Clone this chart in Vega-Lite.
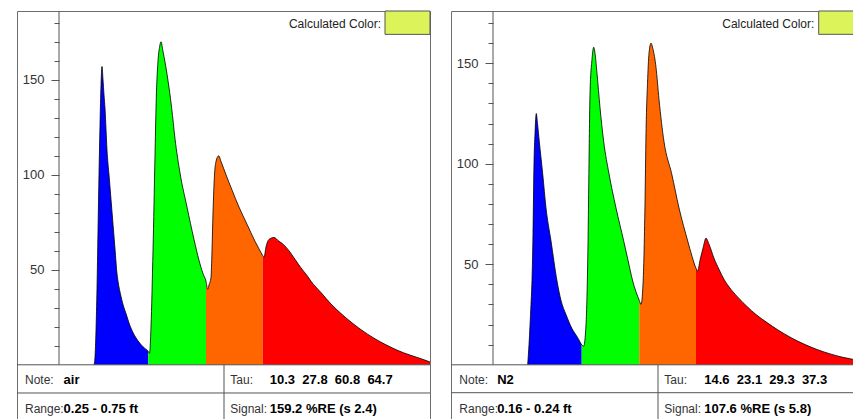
{
  "$schema": "https://vega.github.io/schema/vega-lite/v6.json",
  "padding": {"left": 16, "top": 10, "right": 0, "bottom": 0},
  "autosize": {"type": "pad"},
  "background": "white",
  "spacing": 21,
  "bounds": "flush",
  "config": {
    "view": {"stroke": "#6e6e6e", "strokeWidth": 1},
    "font": "Liberation Sans",
    "axis": {"labelFont": "Liberation Sans"}
  },
  "datasets": {
    "L": [
      {"t": 35, "v": 0, "seg": "b"}, {"t": 36, "v": 4, "seg": "b"}, {"t": 37, "v": 18, "seg": "b"}, {"t": 38, "v": 40, "seg": "b"},
      {"t": 39, "v": 70, "seg": "b"}, {"t": 40, "v": 100, "seg": "b"}, {"t": 41, "v": 126, "seg": "b"}, {"t": 42, "v": 147, "seg": "b"},
      {"t": 43, "v": 157, "seg": "b"}, {"t": 44, "v": 150, "seg": "b"}, {"t": 45, "v": 142, "seg": "b"}, {"t": 46, "v": 135, "seg": "b"},
      {"t": 47, "v": 124, "seg": "b"}, {"t": 48, "v": 113, "seg": "b"}, {"t": 50, "v": 100, "seg": "b"}, {"t": 52, "v": 87, "seg": "b"},
      {"t": 54, "v": 74, "seg": "b"}, {"t": 56, "v": 61, "seg": "b"}, {"t": 58, "v": 48, "seg": "b"}, {"t": 59, "v": 44, "seg": "b"},
      {"t": 62, "v": 36, "seg": "b"}, {"t": 65, "v": 30, "seg": "b"}, {"t": 67, "v": 27, "seg": "b"}, {"t": 70, "v": 22, "seg": "b"},
      {"t": 74, "v": 17, "seg": "b"}, {"t": 79, "v": 12.6, "seg": "b"}, {"t": 84, "v": 9.5, "seg": "b"}, {"t": 89.3, "v": 7, "seg": "b"},
      {"t": 89.3, "v": 7, "seg": "g"}, {"t": 90.5, "v": 6, "seg": "g"}, {"t": 92, "v": 20, "seg": "g"}, {"t": 94, "v": 60, "seg": "g"},
      {"t": 96, "v": 110, "seg": "g"}, {"t": 97, "v": 135, "seg": "g"}, {"t": 99, "v": 160, "seg": "g"}, {"t": 100.5, "v": 167, "seg": "g"},
      {"t": 102, "v": 170, "seg": "g"}, {"t": 104, "v": 165, "seg": "g"}, {"t": 108, "v": 153, "seg": "g"}, {"t": 112.7, "v": 135, "seg": "g"},
      {"t": 116, "v": 119, "seg": "g"}, {"t": 121, "v": 101, "seg": "g"}, {"t": 128, "v": 83, "seg": "g"}, {"t": 135, "v": 66, "seg": "g"},
      {"t": 140, "v": 55, "seg": "g"}, {"t": 144, "v": 48, "seg": "g"}, {"t": 147, "v": 44, "seg": "g"},
      {"t": 147, "v": 44, "seg": "o"}, {"t": 148.7, "v": 39.7, "seg": "o"}, {"t": 150, "v": 42, "seg": "o"}, {"t": 152, "v": 46, "seg": "o"},
      {"t": 153, "v": 60, "seg": "o"}, {"t": 154, "v": 80, "seg": "o"}, {"t": 155.5, "v": 100, "seg": "o"}, {"t": 157, "v": 107, "seg": "o"},
      {"t": 159.7, "v": 110, "seg": "o"}, {"t": 162, "v": 107, "seg": "o"}, {"t": 167, "v": 100, "seg": "o"}, {"t": 173, "v": 92, "seg": "o"},
      {"t": 180, "v": 83, "seg": "o"}, {"t": 188, "v": 74, "seg": "o"}, {"t": 196, "v": 65, "seg": "o"}, {"t": 200, "v": 61, "seg": "o"},
      {"t": 203.7, "v": 57.5, "seg": "o"},
      {"t": 203.7, "v": 57.5, "seg": "r"}, {"t": 205, "v": 56.5, "seg": "r"}, {"t": 207, "v": 62, "seg": "r"}, {"t": 210, "v": 66, "seg": "r"},
      {"t": 215, "v": 67, "seg": "r"}, {"t": 220, "v": 65, "seg": "r"}, {"t": 224, "v": 63.5, "seg": "r"}, {"t": 230, "v": 60, "seg": "r"},
      {"t": 236, "v": 55.5, "seg": "r"}, {"t": 242, "v": 51, "seg": "r"}, {"t": 248, "v": 47, "seg": "r"}, {"t": 252, "v": 44, "seg": "r"},
      {"t": 262, "v": 38, "seg": "r"}, {"t": 272, "v": 32, "seg": "r"}, {"t": 282, "v": 27, "seg": "r"}, {"t": 292, "v": 22.5, "seg": "r"},
      {"t": 302, "v": 18.5, "seg": "r"}, {"t": 315, "v": 14, "seg": "r"}, {"t": 327, "v": 10.5, "seg": "r"}, {"t": 339, "v": 7.5, "seg": "r"},
      {"t": 350, "v": 5.3, "seg": "r"}, {"t": 362, "v": 3.2, "seg": "r"}, {"t": 371, "v": 1.5, "seg": "r"}
    ],
    "R": [
      {"t": 34.7, "v": 0, "seg": "b"}, {"t": 36, "v": 10, "seg": "b"}, {"t": 38, "v": 30, "seg": "b"}, {"t": 39, "v": 42, "seg": "b"},
      {"t": 40, "v": 65, "seg": "b"}, {"t": 41, "v": 100, "seg": "b"}, {"t": 42, "v": 115, "seg": "b"}, {"t": 43.3, "v": 125, "seg": "b"},
      {"t": 44.5, "v": 120, "seg": "b"}, {"t": 46.3, "v": 111, "seg": "b"}, {"t": 49.7, "v": 95, "seg": "b"}, {"t": 53, "v": 78, "seg": "b"},
      {"t": 58, "v": 61.6, "seg": "b"}, {"t": 64, "v": 41.7, "seg": "b"}, {"t": 68, "v": 32, "seg": "b"}, {"t": 73, "v": 25, "seg": "b"},
      {"t": 79, "v": 18, "seg": "b"}, {"t": 84.7, "v": 13.5, "seg": "b"}, {"t": 88.7, "v": 10, "seg": "b"},
      {"t": 88.7, "v": 10, "seg": "g"}, {"t": 90.7, "v": 9.3, "seg": "g"}, {"t": 93, "v": 20, "seg": "g"}, {"t": 95, "v": 60, "seg": "g"},
      {"t": 96, "v": 100, "seg": "g"}, {"t": 97, "v": 135, "seg": "g"}, {"t": 99, "v": 152, "seg": "g"}, {"t": 100.7, "v": 158, "seg": "g"},
      {"t": 102, "v": 155, "seg": "g"}, {"t": 104, "v": 145, "seg": "g"}, {"t": 107, "v": 128, "seg": "g"}, {"t": 110.7, "v": 111, "seg": "g"},
      {"t": 116, "v": 95, "seg": "g"}, {"t": 123, "v": 78, "seg": "g"}, {"t": 130.7, "v": 61.6, "seg": "g"}, {"t": 135, "v": 52, "seg": "g"},
      {"t": 139.7, "v": 41.7, "seg": "g"}, {"t": 146.3, "v": 32, "seg": "g"},
      {"t": 146.3, "v": 32, "seg": "o"}, {"t": 148, "v": 30, "seg": "o"}, {"t": 150, "v": 40, "seg": "o"}, {"t": 152, "v": 80, "seg": "o"},
      {"t": 153, "v": 115, "seg": "o"}, {"t": 154.5, "v": 140, "seg": "o"}, {"t": 156, "v": 155, "seg": "o"}, {"t": 158, "v": 160, "seg": "o"},
      {"t": 160, "v": 157, "seg": "o"}, {"t": 163, "v": 148, "seg": "o"}, {"t": 166, "v": 132, "seg": "o"}, {"t": 171, "v": 111, "seg": "o"},
      {"t": 178.7, "v": 95, "seg": "o"}, {"t": 186, "v": 78, "seg": "o"}, {"t": 194.7, "v": 61.6, "seg": "o"}, {"t": 199, "v": 54, "seg": "o"},
      {"t": 203, "v": 48, "seg": "o"},
      {"t": 203, "v": 48, "seg": "r"}, {"t": 204.7, "v": 46.7, "seg": "r"}, {"t": 207, "v": 52, "seg": "r"}, {"t": 210, "v": 58, "seg": "r"},
      {"t": 213, "v": 63, "seg": "r"}, {"t": 216, "v": 60, "seg": "r"}, {"t": 221, "v": 53, "seg": "r"}, {"t": 226, "v": 47.5, "seg": "r"},
      {"t": 231, "v": 42.5, "seg": "r"}, {"t": 238, "v": 37.5, "seg": "r"}, {"t": 246, "v": 33, "seg": "r"}, {"t": 254, "v": 29, "seg": "r"},
      {"t": 263, "v": 25, "seg": "r"}, {"t": 274, "v": 21, "seg": "r"}, {"t": 285, "v": 17.3, "seg": "r"}, {"t": 298, "v": 13.5, "seg": "r"},
      {"t": 311, "v": 10.3, "seg": "r"}, {"t": 324, "v": 7.6, "seg": "r"}, {"t": 338, "v": 5.3, "seg": "r"}, {"t": 350, "v": 3.7, "seg": "r"},
      {"t": 361, "v": 2.6, "seg": "r"}
    ]
  },
  "hconcat": [
    {
      "width": 413,
      "height": 409,
      "resolve": {"axis": {"y": "independent"}},
      "layer": [
        {
          "data": {"name": "L"},
          "mark": {"type": "area", "interpolate": "monotone"},
          "encoding": {
            "x": {"field": "t", "type": "quantitative", "scale": {"domain": [-42, 371], "nice": false, "zero": false}, "axis": null},
            "y": {
              "field": "v", "type": "quantitative",
              "scale": {"domain": [-29.05, 186.2], "nice": false, "zero": false},
              "axis": {
                "title": null, "orient": "left", "values": [50, 100, 150],
                "offset": -42, "domain": false, "grid": false, "tickSize": 8, "tickColor": "#555555",
                "labelFontSize": 13, "labelColor": "#333333", "labelPadding": 7
              }
            },
            "y2": {"datum": 0},
            "color": {"field": "seg", "type": "nominal", "scale": {"domain": ["b", "g", "o", "r"], "range": ["#0000ff", "#00ff00", "#ff6600", "#ff0000"]}, "legend": null}
          }
        },
        {
          "data": {"name": "L"},
          "mark": {"type": "line", "color": "#000000", "strokeWidth": 0.8, "interpolate": "monotone"},
          "encoding": {
            "x": {"field": "t", "type": "quantitative"},
            "y": {
              "field": "v", "type": "quantitative",
              "axis": {
                "title": null, "orient": "left", "values": [10, 20, 30, 40, 60, 70, 80, 90, 110, 120, 130, 140, 160, 170, 180],
                "labels": false, "offset": -42, "domain": false, "grid": false, "tickSize": 5, "tickColor": "#555555"
              }
            }
          }
        },
        {
          "data": {"values": [{}]},
          "mark": {"type": "rule", "color": "#555555"},
          "encoding": {"x": {"datum": 0, "type": "quantitative"}, "y": {"datum": 0, "type": "quantitative", "axis": null}, "y2": {"datum": 186.2}}
        },
        {
          "data": {"values": [{}]},
          "mark": {"type": "rule", "color": "#555555"},
          "encoding": {"x": {"datum": -42, "type": "quantitative"}, "x2": {"datum": 371}, "y": {"datum": 0, "type": "quantitative", "axis": null}}
        },
        {
          "data": {"values": [{}]},
          "mark": {"type": "rule", "color": "#555555"},
          "encoding": {"x": {"datum": -42, "type": "quantitative"}, "x2": {"datum": 371}, "y": {"datum": -14.84, "type": "quantitative", "axis": null}}
        },
        {
          "data": {"values": [{}]},
          "mark": {"type": "rule", "color": "#555555"},
          "encoding": {"x": {"datum": 165, "type": "quantitative"}, "y": {"datum": 0, "type": "quantitative", "axis": null}, "y2": {"datum": -29.05}}
        },
        {
          "data": {"values": [{}]},
          "mark": {"type": "rect", "fill": "#dcf45a", "stroke": "#555555", "strokeWidth": 1},
          "encoding": {"x": {"datum": 326, "type": "quantitative"}, "x2": {"datum": 371}, "y": {"datum": 173.9, "type": "quantitative", "axis": null}, "y2": {"datum": 186.2}}
        },
        {
          "data": {"values": [{"s": "Calculated Color:"}]},
          "mark": {"type": "text", "align": "right", "baseline": "alphabetic", "fontSize": 12, "color": "#222222"},
          "encoding": {"x": {"datum": 322, "type": "quantitative"}, "y": {"datum": 177.1, "type": "quantitative", "axis": null}, "text": {"field": "s"}}
        },
        {
          "data": {"values": [{"s": "Note:\nRange:"}]},
          "mark": {"type": "text", "align": "left", "baseline": "alphabetic", "fontSize": 12, "color": "#333333", "lineBreak": "\n", "lineHeight": 28.4},
          "encoding": {"x": {"datum": -34, "type": "quantitative"}, "y": {"datum": -10.26, "type": "quantitative", "axis": null}, "text": {"field": "s"}}
        },
        {
          "data": {"values": [{"s": "air\n0.25 - 0.75 ft"}]},
          "mark": {"type": "text", "align": "left", "baseline": "alphabetic", "fontSize": 13, "fontWeight": "bold", "color": "#000000", "lineBreak": "\n", "lineHeight": 28.4},
          "encoding": {"x": {"datum": 4.6, "type": "quantitative"}, "y": {"datum": -10.26, "type": "quantitative", "axis": null}, "text": {"field": "s"}}
        },
        {
          "data": {"values": [{"s": "Tau:\nSignal:"}]},
          "mark": {"type": "text", "align": "left", "baseline": "alphabetic", "fontSize": 12, "color": "#333333", "lineBreak": "\n", "lineHeight": 28.4},
          "encoding": {"x": {"datum": 171.3, "type": "quantitative"}, "y": {"datum": -10.26, "type": "quantitative", "axis": null}, "text": {"field": "s"}}
        },
        {
          "data": {"values": [{"s": "10.3\u00a0\u00a027.8\u00a0\u00a060.8\u00a0\u00a064.7\n159.2 %RE (s 2.4)"}]},
          "mark": {"type": "text", "align": "left", "baseline": "alphabetic", "fontSize": 13, "fontWeight": "bold", "color": "#000000", "lineBreak": "\n", "lineHeight": 28.4},
          "encoding": {"x": {"datum": 210.8, "type": "quantitative"}, "y": {"datum": -10.26, "type": "quantitative", "axis": null}, "text": {"field": "s"}}
        }
      ]
    },
    {
      "width": 403,
      "height": 409,
      "resolve": {"axis": {"y": "independent"}},
      "layer": [
        {
          "data": {"name": "R"},
          "mark": {"type": "area", "interpolate": "monotone"},
          "encoding": {
            "x": {"field": "t", "type": "quantitative", "scale": {"domain": [-42, 361], "nice": false, "zero": false}, "axis": null},
            "y": {
              "field": "v", "type": "quantitative",
              "scale": {"domain": [-27.46, 176.0], "nice": false, "zero": false},
              "axis": {
                "title": null, "orient": "left", "values": [50, 100, 150],
                "offset": -42, "domain": false, "grid": false, "tickSize": 8, "tickColor": "#555555",
                "labelFontSize": 13, "labelColor": "#333333", "labelPadding": 7
              }
            },
            "y2": {"datum": 0},
            "color": {"field": "seg", "type": "nominal", "scale": {"domain": ["b", "g", "o", "r"], "range": ["#0000ff", "#00ff00", "#ff6600", "#ff0000"]}, "legend": null}
          }
        },
        {
          "data": {"name": "R"},
          "mark": {"type": "line", "color": "#000000", "strokeWidth": 0.8, "interpolate": "monotone"},
          "encoding": {
            "x": {"field": "t", "type": "quantitative"},
            "y": {
              "field": "v", "type": "quantitative",
              "axis": {
                "title": null, "orient": "left", "values": [10, 20, 30, 40, 60, 70, 80, 90, 110, 120, 130, 140, 160, 170],
                "labels": false, "offset": -42, "domain": false, "grid": false, "tickSize": 5, "tickColor": "#555555"
              }
            }
          }
        },
        {
          "data": {"values": [{}]},
          "mark": {"type": "rule", "color": "#555555"},
          "encoding": {"x": {"datum": 0, "type": "quantitative"}, "y": {"datum": 0, "type": "quantitative", "axis": null}, "y2": {"datum": 176.0}}
        },
        {
          "data": {"values": [{}]},
          "mark": {"type": "rule", "color": "#555555"},
          "encoding": {"x": {"datum": -42, "type": "quantitative"}, "x2": {"datum": 361}, "y": {"datum": 0, "type": "quantitative", "axis": null}}
        },
        {
          "data": {"values": [{}]},
          "mark": {"type": "rule", "color": "#555555"},
          "encoding": {"x": {"datum": -42, "type": "quantitative"}, "x2": {"datum": 361}, "y": {"datum": -13.88, "type": "quantitative", "axis": null}}
        },
        {
          "data": {"values": [{}]},
          "mark": {"type": "rule", "color": "#555555"},
          "encoding": {"x": {"datum": 165, "type": "quantitative"}, "y": {"datum": 0, "type": "quantitative", "axis": null}, "y2": {"datum": -27.46}}
        },
        {
          "data": {"values": [{}]},
          "mark": {"type": "rect", "fill": "#dcf45a", "stroke": "#555555", "strokeWidth": 1},
          "encoding": {"x": {"datum": 325.7, "type": "quantitative"}, "x2": {"datum": 361}, "y": {"datum": 164.4, "type": "quantitative", "axis": null}, "y2": {"datum": 176.0}}
        },
        {
          "data": {"values": [{"s": "Calculated Color:"}]},
          "mark": {"type": "text", "align": "right", "baseline": "alphabetic", "fontSize": 12, "color": "#222222"},
          "encoding": {"x": {"datum": 321.3, "type": "quantitative"}, "y": {"datum": 167.4, "type": "quantitative", "axis": null}, "text": {"field": "s"}}
        },
        {
          "data": {"values": [{"s": "Note:\nRange:"}]},
          "mark": {"type": "text", "align": "left", "baseline": "alphabetic", "fontSize": 12, "color": "#333333", "lineBreak": "\n", "lineHeight": 28.4},
          "encoding": {"x": {"datum": -33.7, "type": "quantitative"}, "y": {"datum": -9.7, "type": "quantitative", "axis": null}, "text": {"field": "s"}}
        },
        {
          "data": {"values": [{"s": "N2\n0.16 - 0.24 ft"}]},
          "mark": {"type": "text", "align": "left", "baseline": "alphabetic", "fontSize": 13, "fontWeight": "bold", "color": "#000000", "lineBreak": "\n", "lineHeight": 28.4},
          "encoding": {"x": {"datum": 4.2, "type": "quantitative"}, "y": {"datum": -9.7, "type": "quantitative", "axis": null}, "text": {"field": "s"}}
        },
        {
          "data": {"values": [{"s": "Tau:\nSignal:"}]},
          "mark": {"type": "text", "align": "left", "baseline": "alphabetic", "fontSize": 12, "color": "#333333", "lineBreak": "\n", "lineHeight": 28.4},
          "encoding": {"x": {"datum": 171.3, "type": "quantitative"}, "y": {"datum": -9.7, "type": "quantitative", "axis": null}, "text": {"field": "s"}}
        },
        {
          "data": {"values": [{"s": "14.6\u00a0\u00a023.1\u00a0\u00a029.3\u00a0\u00a037.3\n107.6 %RE (s 5.8)"}]},
          "mark": {"type": "text", "align": "left", "baseline": "alphabetic", "fontSize": 13, "fontWeight": "bold", "color": "#000000", "lineBreak": "\n", "lineHeight": 28.4},
          "encoding": {"x": {"datum": 211.3, "type": "quantitative"}, "y": {"datum": -9.7, "type": "quantitative", "axis": null}, "text": {"field": "s"}}
        }
      ]
    }
  ]
}
